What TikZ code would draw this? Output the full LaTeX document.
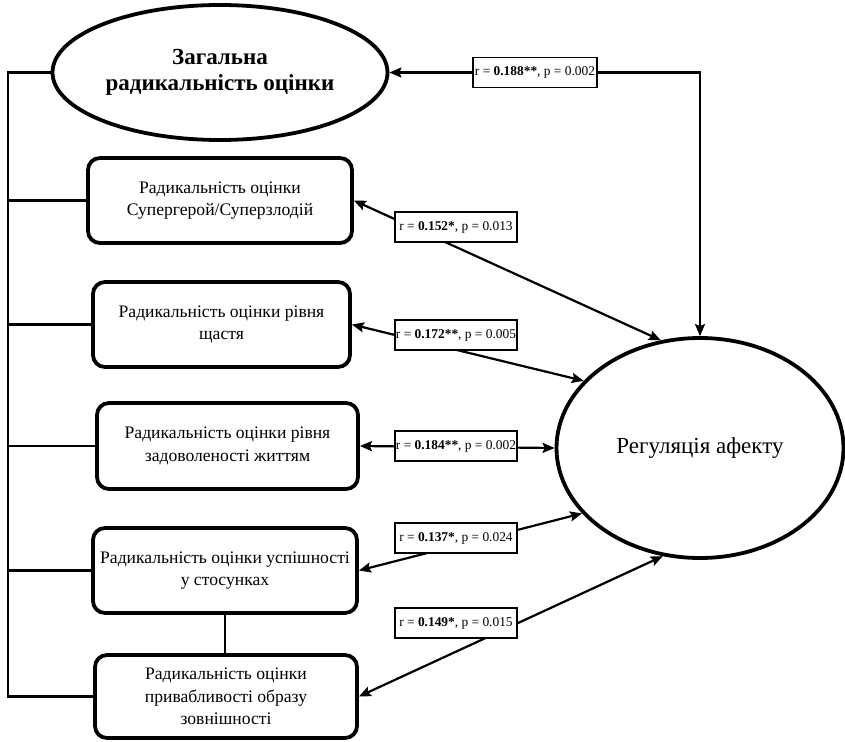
\documentclass[tikz,border=0pt]{standalone}
\usepackage{fontspec}
\setmainfont{Liberation Serif}
\usetikzlibrary{shapes.geometric,arrows.meta}
\begin{document}
\begin{tikzpicture}[x=1pt,y=-1pt,
  box/.style={draw=black, line width=3.8pt, rounded corners=12pt, align=center,
    font=\fontsize{17.6}{22.5}\selectfont, inner sep=0pt},
  ell/.style={draw=black, ellipse, line width=3.8pt, inner sep=0pt, align=center},
  lbl/.style={draw=black, fill=white, line width=1.3pt, inner sep=1pt,
    minimum width=122pt, minimum height=30pt, font=\fontsize{13.4}{15}\selectfont},
  conn/.style={draw=black, line width=2.2pt, {Stealth[length=12pt,width=10pt,inset=2pt]}-{Stealth[length=12pt,width=10pt,inset=2pt]}},
  tree/.style={draw=black, line width=2.2pt}
]
\useasboundingbox (0,0) rectangle (845,741);

% main nodes
\node[ell, minimum width=335pt, minimum height=135pt, font=\bfseries\fontsize{23}{26}\selectfont]
  (gen) at (220,72.5) {Загальна\\радикальність оцінки};
\node[ell, minimum width=287pt, minimum height=220pt, font=\fontsize{23}{26}\selectfont]
  (reg) at (700,448) {Регуляція афекту};

\node[box, minimum width=264pt, minimum height=85pt] (b1) at (220,200.5)
  {Радикальність оцінки\\Супергерой/Суперзлодій};
\node[box, minimum width=257pt, minimum height=85pt] (b2) at (221.5,324.5)
  {Радикальність оцінки рівня\\щастя};
\node[box, minimum width=261pt, minimum height=86pt] (b3) at (227.5,446)
  {Радикальність оцінки рівня\\задоволеності життям};
\node[box, minimum width=264pt, minimum height=85pt] (b4) at (225,570.5)
  {Радикальність оцінки успішності\\у стосунках};
\node[box, minimum width=262pt, minimum height=83pt] (b5) at (226,696.5)
  {Радикальність оцінки\\привабливості образу\\зовнішності};

% left tree
\coordinate (L) at (8,0);
\draw[tree] (gen.west) -- (gen.west -| L) -- (b5.west -| L) -- (b5.west);
\draw[tree] (b1.west -| L) -- (b1.west);
\draw[tree] (b2.west -| L) -- (b2.west);
\draw[tree] (b3.west -| L) -- (b3.west);
\draw[tree] (b4.west -| L) -- (b4.west);
\draw[tree] (b4.south) -- (b4.south |- b5.north);

% connectors
\coordinate (corner) at (gen.east -| reg.north);
\draw[conn] (gen.east) -- (corner) -- (reg.north);
\draw[conn] (b1.east) -- (reg.110.4);
\draw[conn] (b2.east) -- (reg.150.7);
\draw[conn] (b3.east) -- (reg.west);
\draw[conn] (b4.east) -- (reg.209.7);
\draw[conn] (b5.east) -- (reg.251);

% labels
\node[lbl, minimum width=124pt] (l188) at (535,72.5) {r = \textbf{0.188**}, p = 0.002};
\node[lbl] (l152) at (456,227) {r = \textbf{0.152*}, p = 0.013};
\node[lbl] (l172) at (456,335) {r = \textbf{0.172**}, p = 0.005};
\node[lbl] (l184) at (456,446) {r = \textbf{0.184**}, p = 0.002};
\node[lbl] (l137) at (456,538) {r = \textbf{0.137*}, p = 0.024};
\node[lbl] (l149) at (456,623) {r = \textbf{0.149*}, p = 0.015};
\end{tikzpicture}
\end{document}
